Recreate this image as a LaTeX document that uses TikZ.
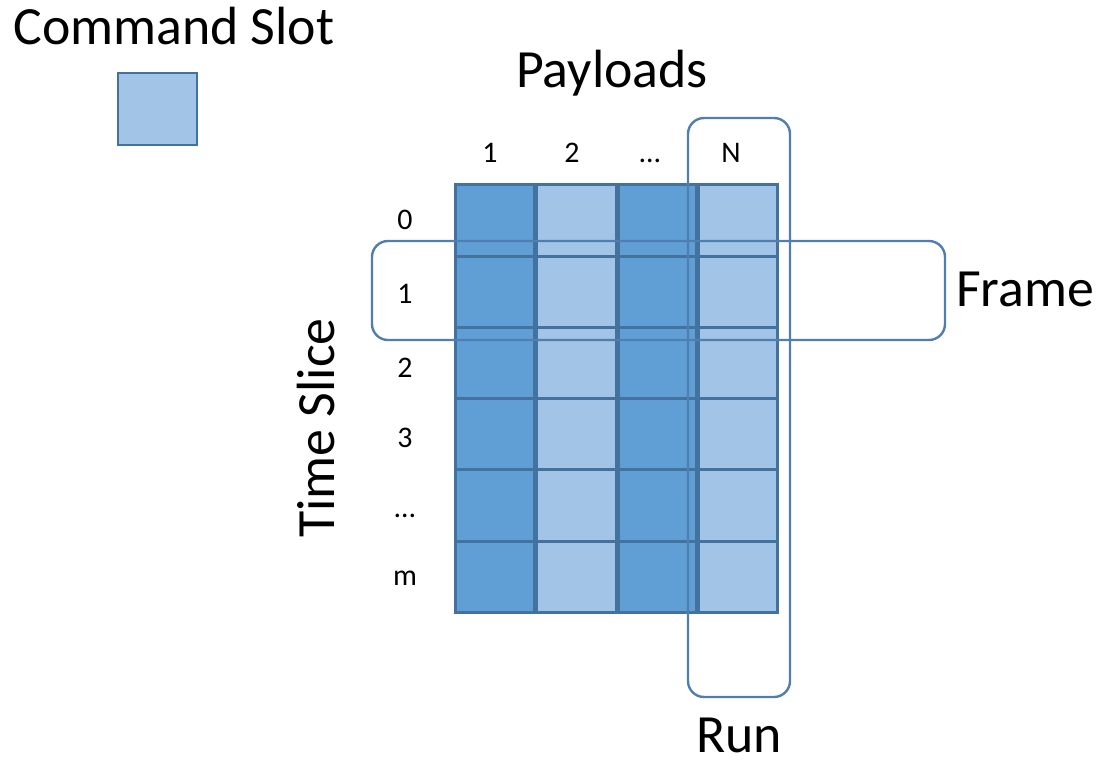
\documentclass[tikz,border=0pt]{standalone}
\usepackage{fontspec}
\setmainfont{Carlito}
\begin{document}
\begin{tikzpicture}[x=1bp,y=-1bp,
  bigtxt/.style={font=\fontsize{54}{60}\selectfont, inner sep=0pt},
  smalltxt/.style={font=\fontsize{30}{36}\selectfont, inner sep=0pt, anchor=base},
  cellborder/.style={draw=cellline, line width=3bp},
  darkcell/.style={cellborder, fill=darkblue},
  lightcell/.style={cellborder, fill=lightblue},
  groupbox/.style={draw=boxline, line width=2.4bp, rounded corners=16bp}]
\definecolor{darkblue}{HTML}{5F9FD5}
\definecolor{lightblue}{HTML}{A2C4E7}
\definecolor{cellline}{HTML}{43729F}
\definecolor{boxline}{HTML}{4F7EAF}
\useasboundingbox (0,0) rectangle (1104,763);

% legend
\node[bigtxt, anchor=base] (legendtxt) at (174,45) {Command Slot};
\draw[lightcell, line width=2.4bp] (118,73) rectangle (197,145);
\coordinate (legendbox) at (157,109);

% axis titles
\node[bigtxt, anchor=base] (payloads) at (612,88) {Payloads};
\node[bigtxt, rotate=90] (timeslice) at (316,428) {Time Slice};

% column labels
\node[smalltxt] (col1) at (490,162) {1};
\node[smalltxt] (col2) at (572,162) {2};
\node[smalltxt] (col3) at (650,162) {\dots};
\node[smalltxt] (colN) at (731,162) {N};

% row labels
\node[smalltxt] (row0) at (405,229) {0};
\node[smalltxt] (row1) at (405,303) {1};
\node[smalltxt] (row2) at (405,377) {2};
\node[smalltxt] (row3) at (405,447) {3};
\node[smalltxt] (row4) at (405,517) {\dots};
\node[smalltxt] (rowm) at (405,585) {m};

% grid of command slots
\foreach \ya/\yb [count=\r] in {184/256, 256/327, 327/398, 398/469, 469/541, 541/612}{
  \draw[darkcell]  (455,\ya) rectangle (534,\yb);
  \draw[lightcell] (536,\ya) rectangle (616,\yb);
  \draw[darkcell]  (618,\ya) rectangle (696,\yb);
  \draw[lightcell] (698,\ya) rectangle (777,\yb);
}

% frame (one time slice) and run (one payload)
\draw[groupbox] (372,241) rectangle (945,340);
\draw[groupbox] (688,118) rectangle (790,697);

\node[bigtxt, anchor=west] (frame) at (956,289) {Frame};
\node[bigtxt] (run) at (739,735) {Run};
\end{tikzpicture}
\end{document}
